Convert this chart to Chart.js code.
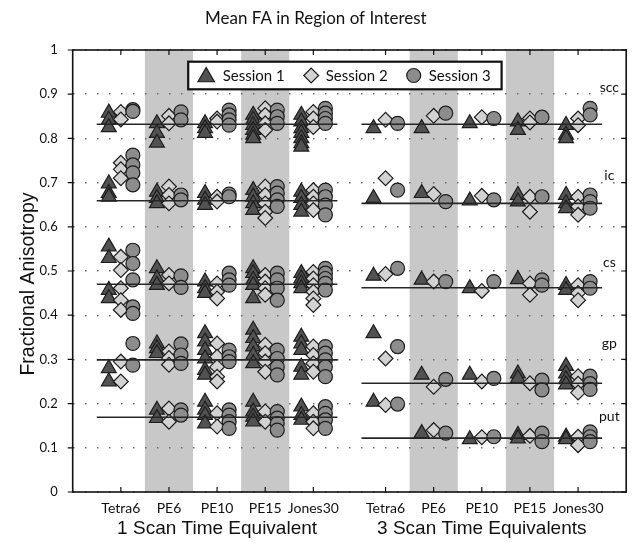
<!DOCTYPE html>
<html><head><meta charset="utf-8">
<script src="https://cdn.jsdelivr.net/npm/chart.js@4/dist/chart.umd.min.js"></script>
<style>html,body{margin:0;padding:0;background:#fff}#wrap{width:636px;height:543px;position:relative}</style>
</head><body><div id="wrap"><canvas id="c" width="636" height="543"></canvas></div>
<script>
// ---------------- data ----------------
const methods = ['Tetra6', 'PE6', 'PE10', 'PE15', 'Jones30'];
const groupTitles = ['1 Scan Time Equivalent', '3 Scan Time Equivalents'];
const sessionNames = ['Session 1', 'Session 2', 'Session 3'];
const regions = ['scc', 'ic', 'cs', 'gp', 'put'];
const regionLabelY = [0.915, 0.715, 0.52, 0.335, 0.17];
const oneScanMeans = [0.832, 0.659, 0.470, 0.299, 0.169];
const threeScanMeans = [0.832, 0.653, 0.462, 0.246, 0.122];
const shadedMethods = ['PE6', 'PE15'];

// 1 scan time equivalent: per method, all FA values of each session
const oneScanS1 = [
  [0.858,0.842,0.825, 0.698,0.676,0.668, 0.555,0.529,0.457,0.438, 0.280,0.250],
  [0.834,0.812,0.790, 0.679,0.665,0.653, 0.506,0.483,0.468, 0.336,0.325,0.314, 0.186,0.167],
  [0.834,0.823,0.812, 0.676,0.661,0.649, 0.476,0.461,0.450, 0.359,0.340,0.321,0.302,0.276,0.265, 0.204,0.186,0.174,0.155],
  [0.853,0.842,0.830,0.819,0.808,0.800, 0.683,0.668,0.653,0.638, 0.506,0.495,0.480,0.468,0.438, 0.367,0.348,0.329,0.310,0.291, 0.204,0.182,0.170,0.159],
  [0.853,0.838,0.823,0.812,0.800,0.789,0.781, 0.679,0.665,0.649,0.634, 0.495,0.483,0.472,0.461, 0.351,0.336,0.321,0.283,0.265, 0.193,0.174,0.163]
];
const oneScanS2 = [
  [0.860,0.843, 0.745,0.730,0.710, 0.532,0.502,0.461,0.434,0.412, 0.295,0.250],
  [0.851,0.834, 0.691,0.672,0.653, 0.491,0.472, 0.318,0.303,0.288, 0.189,0.159],
  [0.845,0.838, 0.668,0.657, 0.472,0.453,0.438, 0.336,0.306,0.283,0.261,0.250, 0.178,0.148],
  [0.868,0.853,0.834,0.819, 0.691,0.672,0.653,0.634,0.620, 0.491,0.476,0.461,0.446, 0.333,0.314,0.295,0.272, 0.182,0.159],
  [0.860,0.845,0.826, 0.683,0.668,0.653,0.638, 0.498,0.483,0.468,0.453,0.438,0.423, 0.329,0.310,0.291,0.272, 0.178,0.159,0.144]
];
const oneScanS3 = [
  [0.865,0.861, 0.762,0.740,0.722,0.695, 0.547,0.517,0.480,0.419,0.404, 0.336,0.287],
  [0.860,0.842, 0.672,0.661, 0.489,0.463, 0.335,0.310,0.291, 0.186,0.174],
  [0.864,0.853,0.842,0.830, 0.674,0.668, 0.495,0.480,0.468, 0.321,0.306,0.295, 0.186,0.174,0.159,0.144],
  [0.864,0.849,0.834, 0.691,0.676,0.661,0.646, 0.495,0.480,0.461,0.434, 0.321,0.302,0.283,0.265, 0.182,0.167,0.155,0.140],
  [0.868,0.857,0.845,0.834, 0.683,0.668,0.649,0.627, 0.506,0.495,0.483,0.472,0.457, 0.329,0.314,0.299,0.283,0.261, 0.193,0.178,0.163,0.144]
];
// 3 scan time equivalents
const threeScanS1 = [
  [0.823, 0.665, 0.489, 0.359, 0.204],
  [0.823, 0.676, 0.480, 0.265, 0.133],
  [0.834, 0.659, 0.461, 0.265, 0.119],
  [0.838,0.819, 0.672,0.657, 0.481, 0.268,0.257, 0.129,0.121],
  [0.830,0.808,0.800, 0.672,0.653,0.642, 0.468,0.457, 0.285,0.268,0.255,0.243, 0.125,0.119]
];
const threeScanS2 = [
  [0.842, 0.710, 0.493, 0.302, 0.197],
  [0.851, 0.674, 0.476, 0.238, 0.140],
  [0.848, 0.670, 0.455, 0.250, 0.124],
  [0.845,0.836, 0.668,0.634, 0.472,0.446, 0.246, 0.127],
  [0.845,0.830, 0.668,0.646,0.627, 0.468,0.450,0.434, 0.262,0.245,0.225, 0.125,0.106]
];
const threeScanS3 = [
  [0.834, 0.683, 0.506, 0.329, 0.199],
  [0.857, 0.657, 0.476, 0.255, 0.133],
  [0.845, 0.661, 0.476, 0.257, 0.125],
  [0.848, 0.668, 0.480,0.468, 0.253,0.231, 0.133,0.114],
  [0.868,0.853, 0.672,0.657,0.642, 0.476,0.461, 0.262,0.245,0.232, 0.136,0.125,0.114]
];

// ---------------- layout helpers ----------------
const groupStart = [1, 6.5];           // x of first method in each group
const sessionOffset = [-0.25, 0, 0.25];
const tickValues = [];
groupStart.forEach(g => methods.forEach((m, i) => tickValues.push(g + i)));

const styles = [
  {pointStyle: 'triangle', radius: 8.6, bg: '#525252'},
  {pointStyle: 'rectRot', radius: 7.4, bg: '#d2d2d2'},
  {pointStyle: 'circle', radius: 7, bg: '#8c8c8c'}
];
const sessionData = [[oneScanS1, threeScanS1], [oneScanS2, threeScanS2], [oneScanS3, threeScanS3]];

function points(s) {
  const out = [];
  sessionData[s].forEach((grp, g) => grp.forEach((vals, i) => vals.forEach(v =>
    out.push({x: groupStart[g] + i + sessionOffset[s], y: v}))));
  return out;
}

const datasets = [];
[oneScanMeans, threeScanMeans].forEach((means, g) => means.forEach(m => datasets.push({
  type: 'line', label: 'mean', order: 0,
  data: [{x: groupStart[g] - 0.5, y: m}, {x: groupStart[g] + methods.length - 0.5, y: m}],
  borderColor: '#262626', borderWidth: 1.6, pointRadius: 0, fill: false
})));
sessionNames.forEach((name, s) => datasets.push({
  type: 'scatter', label: name, order: 3 - s, data: points(s),
  pointStyle: styles[s].pointStyle, pointRadius: styles[s].radius,
  backgroundColor: styles[s].bg, borderColor: '#1c1c1c', borderWidth: 1.2
}));

function drawMarker(ctx, style, r, x, y) {
  ctx.beginPath();
  if (style === 'triangle') {
    ctx.moveTo(x, y - r);
    ctx.lineTo(x + r * Math.sin(2 * Math.PI / 3), y - r * Math.cos(2 * Math.PI / 3));
    ctx.lineTo(x + r * Math.sin(4 * Math.PI / 3), y - r * Math.cos(4 * Math.PI / 3));
  } else if (style === 'rectRot') {
    ctx.moveTo(x - r, y); ctx.lineTo(x, y - r); ctx.lineTo(x + r, y); ctx.lineTo(x, y + r);
  } else {
    ctx.arc(x, y, r, 0, Math.PI * 2);
  }
  ctx.closePath(); ctx.fill(); ctx.stroke();
}

const bandsPlugin = {
  id: 'bands',
  beforeDraw(chart) {
    const {ctx, chartArea: a, scales: {x}} = chart;
    ctx.save();
    ctx.fillStyle = '#c8c8c8';
    groupStart.forEach(g => shadedMethods.forEach(m => {
      const c = g + methods.indexOf(m);
      const l = x.getPixelForValue(c - 0.5), r = x.getPixelForValue(c + 0.5);
      ctx.fillRect(l, a.top, r - l, a.bottom - a.top);
    }));
    ctx.restore();
  }
};

const overlayPlugin = {
  id: 'overlay',
  afterDraw(chart) {
    const {ctx, chartArea: a, scales: {x, y}} = chart;
    ctx.save();
    // frame
    ctx.strokeStyle = '#111'; ctx.lineWidth = 1.6;
    ctx.strokeRect(a.left, a.top, a.right - a.left, a.bottom - a.top);
    // ticks
    ctx.lineWidth = 1.2;
    ctx.beginPath();
    tickValues.forEach(v => {
      const px = x.getPixelForValue(v);
      ctx.moveTo(px, a.top); ctx.lineTo(px, a.top + 5);
      ctx.moveTo(px, a.bottom); ctx.lineTo(px, a.bottom - 5);
    });
    for (let k = 0; k <= 10; k++) {
      const py = y.getPixelForValue(k / 10);
      ctx.moveTo(a.left - 5, py); ctx.lineTo(a.left, py);
      ctx.moveTo(a.right, py); ctx.lineTo(a.right - 5, py);
    }
    ctx.stroke();
    // region labels
    ctx.fillStyle = '#111';
    ctx.font = '14px Lato';
    ctx.textAlign = 'center'; ctx.textBaseline = 'middle';
    regions.forEach((r, i) => ctx.fillText(r, x.getPixelForValue(11.15), y.getPixelForValue(regionLabelY[i])));
    // group titles
    ctx.font = '19px "Liberation Sans"';
    groupTitles.forEach((t, g) => ctx.fillText(t, x.getPixelForValue(groupStart[g] + 2), 529));
    // y title
    ctx.save();
    ctx.translate(29, 284); ctx.rotate(-Math.PI / 2);
    ctx.font = '19.5px "Liberation Sans"';
    ctx.fillText('Fractional Anisotropy', 0, 0);
    ctx.restore();
    // legend
    const lx = a.left + 115.5, ly = a.top + 11.7, lw = 313.4, lh = 27.6;
    ctx.fillStyle = '#fff';
    ctx.fillRect(lx, ly, lw, lh);
    ctx.strokeStyle = '#111'; ctx.lineWidth = 2.2;
    ctx.strokeRect(lx, ly, lw, lh);
    const mx = [18, 123, 225.5], tx = [34.5, 137.5, 240.5];
    ctx.font = '15px Lato'; ctx.textAlign = 'left';
    sessionNames.forEach((n, s) => {
      ctx.fillStyle = styles[s].bg; ctx.strokeStyle = '#1c1c1c'; ctx.lineWidth = 1.2;
      const rr = s === 0 ? 9.5 : styles[s].radius;
      drawMarker(ctx, styles[s].pointStyle, rr, lx + mx[s], ly + lh / 2 + (s === 0 ? 1.5 : 0));
      ctx.fillStyle = '#111';
      ctx.fillText(n, lx + tx[s], ly + lh / 2 + 1);
    });
    ctx.restore();
  }
};

new Chart(document.getElementById('c'), {
  data: {datasets},
  options: {
    responsive: false, animation: false, events: [],
    layout: {padding: {left: 0, right: 4.3, top: 0, bottom: 0}},
    plugins: {
      legend: {display: false}, tooltip: {enabled: false},
      title: {display: true, text: 'Mean FA in Region of Interest', color: '#111',
        font: {family: 'Lato', size: 17, weight: 'normal', lineHeight: 1.2},
        padding: {top: 8, bottom: 21.6}}
    },
    scales: {
      x: {
        type: 'linear', min: 0, max: 11.5,
        grid: {display: false, drawTicks: false}, border: {display: false},
        afterBuildTicks: s => { s.ticks = tickValues.map(v => ({value: v})); },
        afterFit: s => { s.height = 51; },
        ticks: {autoSkip: false, maxRotation: 0, padding: 8, color: '#111',
          font: {family: 'Lato', size: 14},
          callback: (v, i) => methods[i % methods.length]}
      },
      y: {
        min: 0, max: 1,
        grid: {color: '#6a6a6a', lineWidth: 1.4, drawTicks: false},
        border: {display: false, dash: [1.5, 10.5]},
        afterFit: s => { s.width = 72.7; },
        ticks: {stepSize: 0.1, padding: 15, color: '#111', font: {family: 'Lato', size: 13},
          callback: v => String(Number(v.toFixed(1)))}
      }
    }
  },
  plugins: [bandsPlugin, overlayPlugin]
});
</script></body></html>
